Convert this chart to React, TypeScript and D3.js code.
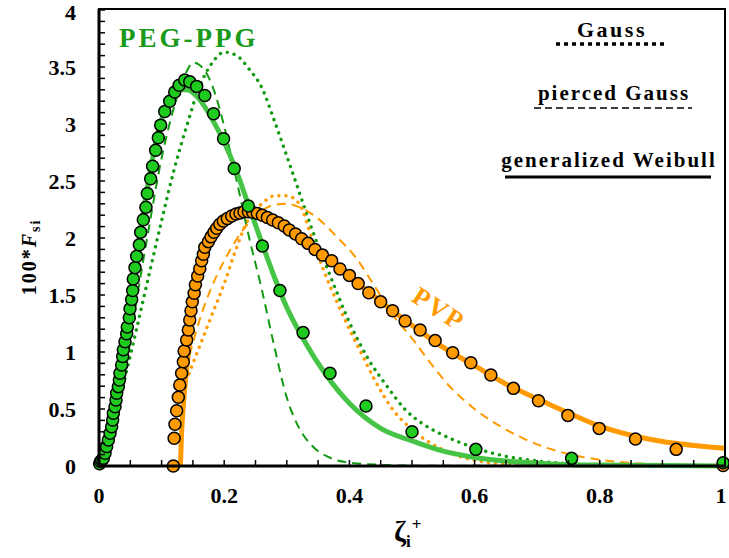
import React from "react";
import * as d3 from "d3";

type Pt = [number, number];

// Measured distributions (symbols)
const pegPoints: Pt[] = [
  [0.001, 0.02], [0.0025, 0.04], [0.0043, 0.05], [0.0069, 0.067], [0.0096, 0.111], [0.0122, 0.17],
  [0.0149, 0.228], [0.0176, 0.287], [0.0202, 0.345], [0.0218, 0.404], [0.0229, 0.462],
  [0.0256, 0.52], [0.0272, 0.579], [0.0282, 0.638], [0.0309, 0.696], [0.0325, 0.754],
  [0.0335, 0.813], [0.0362, 0.886], [0.0378, 0.96], [0.0389, 1.02], [0.0415, 1.09],
  [0.0442, 1.16], [0.0452, 1.22], [0.0484, 1.3], [0.0495, 1.38], [0.0522, 1.46],
  [0.0538, 1.54], [0.0548, 1.64], [0.0575, 1.74], [0.0602, 1.84], [0.0644, 1.94],
  [0.0666, 2.05], [0.0708, 2.16], [0.075, 2.27], [0.0772, 2.39], [0.0825, 2.52],
  [0.0857, 2.63], [0.0905, 2.77], [0.0948, 2.88], [0.0985, 2.99], [0.105, 3.11],
  [0.113, 3.2], [0.121, 3.28], [0.128, 3.34], [0.137, 3.386], [0.145, 3.37],
  [0.156, 3.33], [0.169, 3.25], [0.183, 3.09], [0.199, 2.87], [0.216, 2.61],
  [0.2386, 2.28], [0.261, 1.93], [0.289, 1.54], [0.326, 1.17], [0.369, 0.813],
  [0.4265, 0.526], [0.5, 0.3], [0.602, 0.146], [0.755, 0.067], [0.997, 0.029],
];

const pvpPoints: Pt[] = [
  [0.1187, 0.0], [0.12, 0.243], [0.1214, 0.366], [0.124, 0.485], [0.1267, 0.603],
  [0.129, 0.71], [0.132, 0.813], [0.1347, 0.915], [0.136, 1.009], [0.14, 1.105],
  [0.1427, 1.193], [0.145, 1.28], [0.147, 1.362], [0.149, 1.44], [0.152, 1.515],
  [0.154, 1.59], [0.1576, 1.667], [0.161, 1.73], [0.164, 1.8], [0.1667, 1.857],
  [0.169, 1.918], [0.1747, 1.968], [0.179, 2.01], [0.1837, 2.05], [0.188, 2.085],
  [0.193, 2.12], [0.1986, 2.149], [0.205, 2.17], [0.212, 2.193], [0.2188, 2.21],
  [0.2252, 2.22], [0.2316, 2.23], [0.2386, 2.23], [0.2455, 2.225], [0.253, 2.216],
  [0.261, 2.2], [0.269, 2.18], [0.2774, 2.158], [0.2865, 2.134], [0.296, 2.105],
  [0.304, 2.07], [0.314, 2.035], [0.3237, 1.994], [0.334, 1.953], [0.345, 1.9],
  [0.357, 1.85], [0.3717, 1.8], [0.385, 1.728], [0.4, 1.672], [0.414, 1.6],
  [0.431, 1.52], [0.45, 1.44], [0.469, 1.362], [0.489, 1.272], [0.513, 1.193],
  [0.537, 1.1], [0.565, 0.994], [0.594, 0.906], [0.626, 0.798], [0.662, 0.681],
  [0.702, 0.573], [0.749, 0.444], [0.799, 0.33], [0.857, 0.237], [0.922, 0.146],
  [0.997, 0.005],
];

// Model curves, PEG-PPG
const pegWeibull: Pt[] = [
  [0, 0], [0.01, 0.12], [0.02, 0.33], [0.03, 0.66], [0.04, 1.05], [0.05, 1.45],
  [0.06, 1.84], [0.07, 2.2], [0.08, 2.53], [0.09, 2.82], [0.1, 3.04], [0.11, 3.18],
  [0.12, 3.26], [0.13, 3.3], [0.14, 3.3], [0.16, 3.22], [0.18, 3.05], [0.2, 2.84],
  [0.22, 2.58], [0.24, 2.27], [0.26, 1.96], [0.28, 1.66], [0.3, 1.39], [0.33, 1.08],
  [0.36, 0.82], [0.4, 0.55], [0.45, 0.33], [0.5, 0.22], [0.55, 0.13], [0.6, 0.075],
  [0.7, 0.025], [0.8, 0.008], [1.0, 0.001],
];
const pegGauss: Pt[] = [
  [0, 0], [0.01, 0.07], [0.02, 0.3], [0.04, 0.74], [0.06, 1.2], [0.08, 1.68],
  [0.1, 2.15], [0.12, 2.6], [0.14, 2.98], [0.16, 3.32], [0.18, 3.53], [0.2, 3.63],
  [0.22, 3.6], [0.24, 3.48], [0.26, 3.32], [0.28, 3.03], [0.3, 2.72], [0.32, 2.4],
  [0.34, 2.08], [0.37, 1.66], [0.4, 1.26], [0.43, 0.94], [0.46, 0.7], [0.49, 0.49],
  [0.52, 0.36], [0.55, 0.27], [0.6, 0.16], [0.65, 0.085], [0.7, 0.045], [0.75, 0.02],
  [0.8, 0.01], [0.9, 0.002], [1.0, 0],
];
const pegPierced: Pt[] = [
  [0, 0], [0.01, 0.05], [0.02, 0.2], [0.04, 0.75], [0.06, 1.45], [0.08, 2.1],
  [0.1, 2.7], [0.12, 3.15], [0.14, 3.46], [0.15, 3.54], [0.16, 3.52], [0.18, 3.35],
  [0.2, 2.98], [0.22, 2.5], [0.24, 2.0], [0.26, 1.55], [0.28, 1.05], [0.3, 0.6],
  [0.32, 0.33], [0.34, 0.18], [0.37, 0.07], [0.4, 0.03], [0.45, 0.01], [0.5, 0.003],
  [1.0, 0],
];

// Model curves, PVP
const pvpWeibull: Pt[] = [
  [0.13, 0], [0.132, 0.3], [0.135, 0.55], [0.14, 0.85], [0.15, 1.3], [0.16, 1.62],
  [0.17, 1.85], [0.18, 2.0], [0.19, 2.1], [0.2, 2.16], [0.22, 2.21], [0.24, 2.22],
  [0.26, 2.2], [0.28, 2.15], [0.3, 2.08], [0.32, 2.01], [0.34, 1.93], [0.36, 1.84],
  [0.38, 1.75], [0.4, 1.66], [0.43, 1.53], [0.46, 1.4], [0.5, 1.235], [0.55, 1.04],
  [0.6, 0.88], [0.65, 0.72], [0.7, 0.59], [0.75, 0.465], [0.8, 0.35], [0.85, 0.27],
  [0.9, 0.215], [0.95, 0.18], [1.0, 0.155],
];
const pvpGauss: Pt[] = [
  [0.133, 0.7], [0.14, 0.76], [0.15, 0.9], [0.16, 1.04], [0.18, 1.32], [0.2, 1.6],
  [0.22, 1.92], [0.24, 2.18], [0.26, 2.3], [0.28, 2.37], [0.3, 2.37], [0.32, 2.3],
  [0.34, 2.0], [0.36, 1.7], [0.38, 1.44], [0.4, 1.2], [0.42, 0.98], [0.44, 0.76],
  [0.47, 0.49], [0.5, 0.32], [0.55, 0.14], [0.6, 0.05], [0.67, 0.01], [0.8, 0.002],
  [1.0, 0],
];
const pvpPierced: Pt[] = [
  [0.133, 0.72], [0.14, 0.88], [0.15, 1.08], [0.16, 1.27], [0.18, 1.57], [0.2, 1.8],
  [0.22, 1.99], [0.24, 2.14], [0.26, 2.24], [0.28, 2.29], [0.3, 2.3], [0.32, 2.27],
  [0.35, 2.17], [0.38, 2.01], [0.41, 1.83], [0.44, 1.58], [0.47, 1.32], [0.5, 1.12],
  [0.53, 0.9], [0.56, 0.7], [0.6, 0.5], [0.65, 0.32], [0.7, 0.19], [0.75, 0.105],
  [0.8, 0.055], [0.85, 0.028], [0.9, 0.012], [1.0, 0.002],
];

const xTickValues = [0, 0.2, 0.4, 0.6, 0.8, 1];
const xTickLabels = ["0", "0.2", "0.4", "0.6", "0.8", "1"];
const yTickValues = [0, 0.5, 1, 1.5, 2, 2.5, 3, 3.5, 4];
const yTickLabels = ["0", "0.5", "1", "1.5", "2", "2.5", "3", "3.5", "4"];
const legendLabels = ["Gauss", "pierced Gauss", "generalized Weibull"];

const GREEN_PT = "#1FCB1F";
const GREEN_LINE = "#45C445";
const GREEN_DARK = "#139A13";
const ORANGE = "#FF9A00";
const FONT = "'Liberation Serif', 'Times New Roman', serif";

export default function App() {
  const x = d3.scaleLinear().domain([0, 1]).range([99, 725]);
  const y = d3.scaleLinear().domain([0, 4]).range([466, 10]);
  const line = d3
    .line<Pt>()
    .x((d) => x(d[0]))
    .y((d) => y(d[1]))
    .curve(d3.curveMonotoneX);

  const xMinor = d3.range(0, 1.0001, 0.05);
  const yMinor = d3.range(0, 4.0001, 0.1);

  const dotted = { strokeWidth: 3.4, strokeDasharray: "0.1 7", strokeLinecap: "round" as const, fill: "none" };
  const dashed = { strokeWidth: 2, strokeDasharray: "9 6", fill: "none" };

  return (
    <svg width={729} height={558} style={{ display: "block", position: "absolute", left: 0, top: 0 }} fontFamily={FONT}>
      <rect x={0} y={0} width={729} height={558} fill="#fff" />

      {/* model curves */}
      <path d={line(pegGauss) || ""} stroke={GREEN_DARK} {...dotted} />
      <path d={line(pvpGauss) || ""} stroke={ORANGE} {...dotted} />
      <path d={line(pegPierced) || ""} stroke={GREEN_DARK} {...dashed} />
      <path d={line(pvpPierced) || ""} stroke={ORANGE} {...dashed} />
      <path d={line(pegWeibull) || ""} stroke={GREEN_LINE} strokeWidth={5} fill="none" />
      <path d={line(pvpWeibull) || ""} stroke={ORANGE} strokeWidth={5} fill="none" />

      {/* measured points */}
      {pvpPoints.map((d, i) => (
        <circle key={"o" + i} cx={x(d[0])} cy={y(d[1])} r={6} fill={ORANGE} stroke="#000" strokeWidth={1.5} />
      ))}
      {pegPoints.map((d, i) => (
        <circle key={"g" + i} cx={x(d[0])} cy={y(d[1])} r={6} fill={GREEN_PT} stroke="#000" strokeWidth={1.5} />
      ))}

      {/* frame */}
      <rect x={99} y={9} width={626} height={457} fill="none" stroke="#000" strokeWidth={2} />
      <line x1={99} x2={99} y1={9} y2={467} stroke="#000" strokeWidth={3} />
      <line x1={98} x2={726} y1={466} y2={466} stroke="#000" strokeWidth={3} />

      {/* ticks */}
      {xMinor.map((v, i) => (
        <line key={"xt" + i} x1={x(v)} x2={x(v)} y1={466} y2={460} stroke="#000" strokeWidth={1.5} />
      ))}
      {yMinor.map((v, i) => (
        <line key={"yt" + i} x1={99} x2={105} y1={y(v)} y2={y(v)} stroke="#000" strokeWidth={1.5} />
      ))}

      {/* tick labels */}
      {xTickValues.map((v, i) => (
        <text key={"xl" + i} x={Math.min(x(v), 721)} y={503} textAnchor="middle" fontSize={22} fontWeight="bold">
          {xTickLabels[i]}
        </text>
      ))}
      {yTickValues.map((v, i) => (
        <text key={"yl" + i} x={76} y={Math.max(y(v) + 8, 20)} textAnchor="end" fontSize={22} fontWeight="bold">
          {yTickLabels[i]}
        </text>
      ))}

      {/* axis titles */}
      <text x={394} y={541} fontSize={29} fontWeight="bold">
        ζ<tspan fontSize={17} dy={6}>i</tspan>
        <tspan fontSize={17} dy={-17} dx={1}>+</tspan>
      </text>
      <text transform="translate(36,257) rotate(-90)" textAnchor="middle" fontSize={20} fontWeight="bold" letterSpacing={2}>
        100*<tspan fontStyle="italic">F</tspan>
        <tspan fontSize={14} dy={4}>si</tspan>
      </text>

      {/* series labels */}
      <text x={119} y={47} fontSize={27} fontWeight="bold" fill="#1A9A1A" letterSpacing={3}>
        PEG-PPG
      </text>
      <text transform="translate(434,316) rotate(33)" textAnchor="middle" fontSize={26} fontWeight="bold" fill={ORANGE} letterSpacing={2}>
        PVP
      </text>

      {/* legend */}
      <text x={612} y={37} textAnchor="middle" fontSize={22} fontWeight="bold" letterSpacing={2.5}>
        {legendLabels[0]}
      </text>
      <line x1={556} x2={664} y1={44} y2={44} stroke="#000" strokeWidth={3.5} strokeDasharray="4 4" />
      <text x={614} y={100} textAnchor="middle" fontSize={21} fontWeight="bold" letterSpacing={2}>
        {legendLabels[1]}
      </text>
      <line x1={534} x2={692} y1={108} y2={108} stroke="#000" strokeWidth={1.5} strokeDasharray="7 4" />
      <text x={609} y={167} textAnchor="middle" fontSize={21} fontWeight="bold" letterSpacing={2}>
        {legendLabels[2]}
      </text>
      <line x1={505} x2={711} y1={177} y2={177} stroke="#000" strokeWidth={3} />
    </svg>
  );
}
